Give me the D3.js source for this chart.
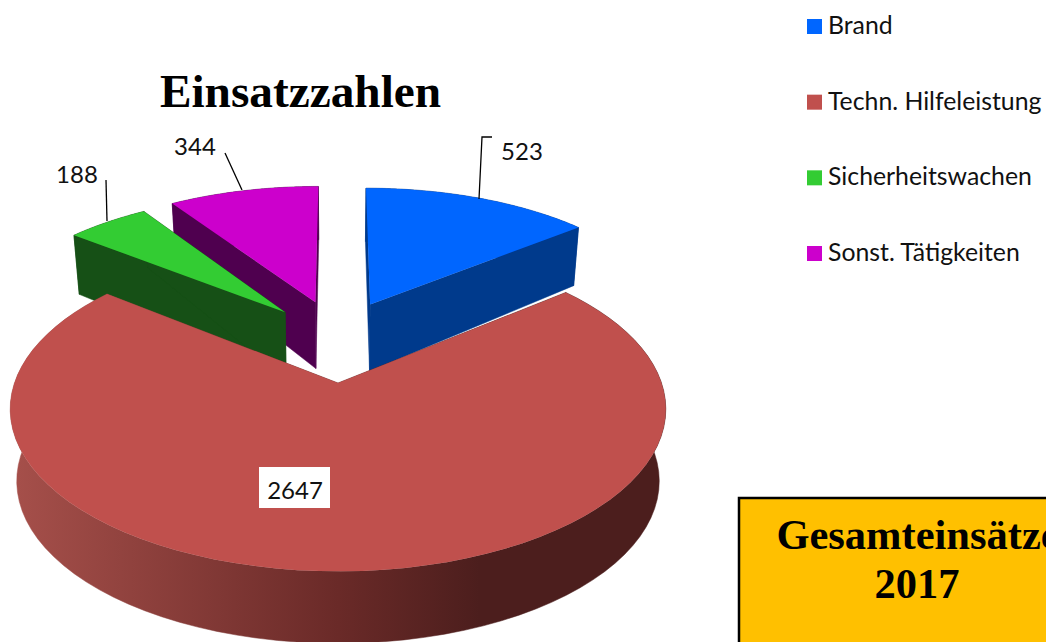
<!DOCTYPE html>
<html>
<head>
<meta charset="utf-8">
<script src="https://cdn.jsdelivr.net/npm/d3@7"></script>
<style>
html, body { margin: 0; padding: 0; background: #fff; overflow: hidden; }
svg { display: block; }
</style>
</head>
<body>
<svg width="1046" height="642"></svg>
<script>
const categories = ["Brand", "Techn. Hilfeleistung", "Sicherheitswachen", "Sonst. Tätigkeiten"];
const values = [523, 2647, 188, 344];
const topColors = ["#0066FF", "#C0504D", "#33CC33", "#CC00CC"];
const sideColors = ["#003A8C", "url(#sideGrad)", "#165016", "#4F004F"];

const svg = d3.select("svg");

// fake 3d: pie plane (u,v) goes through a perspective map
const cx = 338, cy = 345, R = 311, Ry = 146, k = 0.155;
const offsetU = [0.108, 0, -0.176, -0.076];
const offsetV = [-0.289, 0.25, -0.232, -0.306];
function project(u, v) {
  const w = 1 - k * v;
  return [cx + R * u / w, cy + Ry * v / w];
}
function projectLow(u, v) {
  const p = project(u, v);
  const depth = Math.min(72, 59 + (v + 0.86) * 13);
  return [cx + (p[0] - cx) * 0.98, p[1] + depth];
}

const arcs = d3.pie().sort(null).value(d => d)(values);
const line = d3.line();

const grad = svg.append("defs").append("linearGradient")
  .attr("id", "sideGrad")
  .attr("gradientUnits", "userSpaceOnUse")
  .attr("x1", 17).attr("x2", 660).attr("y1", 0).attr("y2", 0);
grad.append("stop").attr("offset", "0").attr("stop-color", "#A54F4A");
grad.append("stop").attr("offset", "0.5").attr("stop-color", "#6A2A28");
grad.append("stop").attr("offset", "0.72").attr("stop-color", "#4C1E1D");
grad.append("stop").attr("offset", "1").attr("stop-color", "#4C1E1D");

function slicePoints(a, i) {
  const ou = offsetU[i], ov = offsetV[i];
  const rim = d3.range(0, 81).map(s => {
    const t = a.startAngle + (a.endAngle - a.startAngle) * s / 80;
    return [ou + Math.sin(t), ov - Math.cos(t)];
  });
  return { apex: [ou, ov], rim: rim };
}

// back to front, the big slice last
[3, 2, 0, 1].forEach(i => {
  const s = slicePoints(arcs[i], i);
  const g = svg.append("g");
  const hi = s.rim.map(p => project(p[0], p[1]));
  const lo = s.rim.map(p => projectLow(p[0], p[1]));
  const aHi = project(s.apex[0], s.apex[1]), aLo = projectLow(s.apex[0], s.apex[1]);
  // rim band
  g.append("path")
    .attr("d", line(hi.concat(lo.slice().reverse())) + "Z")
    .attr("fill", sideColors[i]).attr("stroke", sideColors[i]).attr("stroke-width", 0.5);
  // the two radial walls
  [[hi[0], lo[0]], [hi[80], lo[80]]].forEach(e => {
    g.append("path")
      .attr("d", line([aHi, e[0], e[1], aLo]) + "Z")
      .attr("fill", sideColors[i]).attr("stroke", sideColors[i]).attr("stroke-width", 0.5);
  });
  g.append("path")
    .attr("d", line([aHi].concat(hi)) + "Z")
    .attr("fill", topColors[i]);
});

// leader lines
const leaders = [
  [[479, 199], [482, 137], [492, 137]],
  [[225, 153], [242, 190]],
  [[106, 180], [107, 221]]
];
leaders.forEach(l => {
  svg.append("path").attr("d", line(l)).attr("fill", "none")
    .attr("stroke", "#000").attr("stroke-width", 1.3);
});

// value labels
const labelPos = [[522, 150], [295, 489], [77, 173], [195, 145]];
svg.append("rect").attr("x", 259).attr("y", 467).attr("width", 71).attr("height", 41).attr("fill", "#fff");
values.forEach((v, i) => {
  svg.append("text")
    .attr("x", labelPos[i][0]).attr("y", labelPos[i][1])
    .attr("text-anchor", "middle").attr("dominant-baseline", "central")
    .attr("font-family", "Lato").attr("font-size", 24).attr("fill", "#111")
    .text(v);
});

// title
svg.append("text").attr("x", 300.5).attr("y", 107).attr("text-anchor", "middle")
  .attr("font-family", "Liberation Serif").attr("font-weight", "bold").attr("font-size", 47.3)
  .text("Einsatzzahlen");

// legend
const legendY = d3.scalePoint().domain(categories).range([26.5, 253.5]);
categories.forEach((c, i) => {
  svg.append("rect").attr("x", 807).attr("y", legendY(c) - 7.5)
    .attr("width", 15).attr("height", 15).attr("fill", topColors[i]);
  svg.append("text").attr("x", 828).attr("y", legendY(c) + 7.5)
    .attr("font-family", "Lato").attr("font-size", 24.8).attr("fill", "#111")
    .text(c);
});

// total box, runs off the page
svg.append("rect").attr("x", 739).attr("y", 498).attr("width", 340).attr("height", 180)
  .attr("fill", "#FFC000").attr("stroke", "#000").attr("stroke-width", 2.5);
svg.append("text").attr("x", 918).attr("y", 549).attr("text-anchor", "middle")
  .attr("font-family", "Liberation Serif").attr("font-weight", "bold").attr("font-size", 42.5)
  .text("Gesamteinsätze");
svg.append("text").attr("x", 917).attr("y", 598).attr("text-anchor", "middle")
  .attr("font-family", "Liberation Serif").attr("font-weight", "bold").attr("font-size", 42.5)
  .text("2017");
</script>
</body>
</html>
